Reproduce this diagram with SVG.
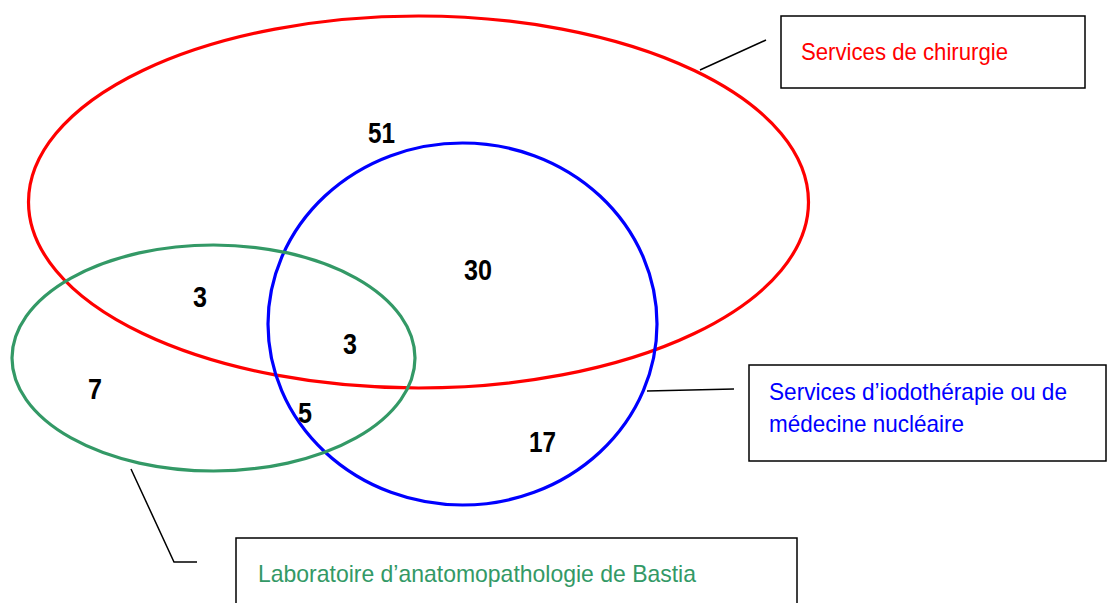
<svg xmlns="http://www.w3.org/2000/svg" width="1108" height="603" viewBox="0 0 1108 603">
<style>
.set{fill:none;stroke-width:3.2}
.box{fill:#fff;stroke:#000;stroke-width:1.5}
.lead{fill:none;stroke:#000;stroke-width:1.5}
.lbl{font-family:"Liberation Sans",Arial,sans-serif;font-size:24px}
.num{font-family:"Liberation Sans",Arial,sans-serif;font-size:29px;font-weight:bold;fill:#000}
</style>
<rect width="1108" height="603" fill="#fff"/>
<g id="connectors">
<polyline class="lead" points="700,70 766,40"/>
<polyline class="lead" points="647,391 734,389"/>
<polyline class="lead" points="131,469 174,562 197,562"/>
</g>
<g id="set-chirurgie">
<ellipse class="set" cx="418.5" cy="202" rx="390" ry="186" stroke="#ff0000"/>
</g>
<g id="set-iodotherapie">
<ellipse class="set" cx="462.5" cy="324" rx="194.5" ry="181" stroke="#0000ff"/>
</g>
<g id="set-laboratoire">
<ellipse class="set" cx="213.5" cy="358" rx="201.5" ry="113" stroke="#339966"/>
</g>
<g id="counts">
<text class="num" x="368" y="143" textLength="27" lengthAdjust="spacingAndGlyphs">51</text>
<text class="num" x="464" y="280" textLength="28" lengthAdjust="spacingAndGlyphs">30</text>
<text class="num" x="193" y="307" textLength="14" lengthAdjust="spacingAndGlyphs">3</text>
<text class="num" x="343" y="354" textLength="14" lengthAdjust="spacingAndGlyphs">3</text>
<text class="num" x="88" y="399" textLength="14" lengthAdjust="spacingAndGlyphs">7</text>
<text class="num" x="298" y="423" textLength="14" lengthAdjust="spacingAndGlyphs">5</text>
<text class="num" x="529" y="452" textLength="27" lengthAdjust="spacingAndGlyphs">17</text>
</g>
<g id="label-chirurgie">
<rect class="box" x="781" y="16" width="304" height="72"/>
<text class="lbl" x="801" y="60" fill="#ff0000" textLength="207" lengthAdjust="spacingAndGlyphs">Services de chirurgie</text>
</g>
<g id="label-iodotherapie">
<rect class="box" x="749" y="365" width="357" height="96"/>
<text class="lbl" x="769" y="400" fill="#0000ff" textLength="298" lengthAdjust="spacingAndGlyphs">Services d’iodothérapie ou de</text>
<text class="lbl" x="769" y="432" fill="#0000ff" textLength="195" lengthAdjust="spacingAndGlyphs">médecine nucléaire</text>
</g>
<g id="label-laboratoire">
<rect class="box" x="236" y="538" width="561" height="70"/>
<text class="lbl" x="258" y="582" fill="#339966" textLength="438" lengthAdjust="spacingAndGlyphs">Laboratoire d’anatomopathologie de Bastia</text>
</g>
</svg>
